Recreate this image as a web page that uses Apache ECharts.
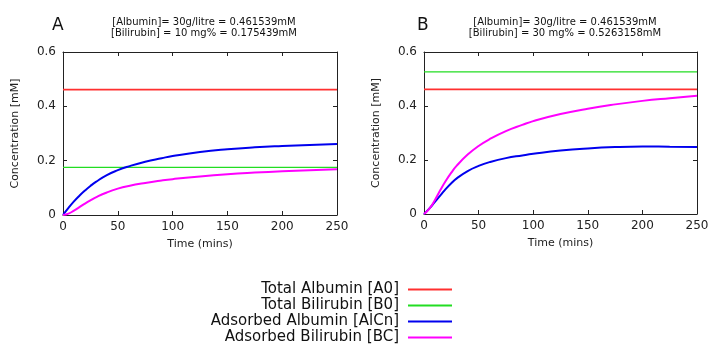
<!DOCTYPE html>
<html>
<head>
<meta charset="utf-8">
<script src="https://cdn.jsdelivr.net/npm/echarts@6/dist/echarts.min.js"></script>
<style>
  html, body { margin: 0; padding: 0; background: #fff; }
  #chart { width: 712px; height: 352px; }
</style>
</head>
<body>
<div id="chart"></div>
<script>
// time points (mins), shared by all curves
var times = [0, 5, 10, 15, 20, 25, 30, 40, 50, 60, 75, 90, 100, 125, 150, 175, 200, 225, 250];

// panel A: [Bilirubin] = 10 mg%
var totalAlbA = 0.461539;
var totalBilA = 0.175439;
var adsAlbA = [0, 0.026, 0.050, 0.071, 0.090, 0.107, 0.122, 0.147, 0.165, 0.179, 0.196, 0.209, 0.217, 0.232, 0.242, 0.249, 0.254, 0.258, 0.261];
var adsBilA = [0, 0.005, 0.016, 0.029, 0.042, 0.054, 0.065, 0.083, 0.097, 0.107, 0.118, 0.127, 0.132, 0.142, 0.150, 0.156, 0.161, 0.165, 0.168];

// panel B: [Bilirubin] = 30 mg%
var totalAlbB = 0.461539;
var totalBilB = 0.5263158;
var adsAlbB = [0, 0.021, 0.045, 0.069, 0.093, 0.114, 0.132, 0.159, 0.178, 0.192, 0.207, 0.217, 0.223, 0.235, 0.243, 0.248, 0.250, 0.249, 0.248];
var adsBilB = [0, 0.020, 0.052, 0.089, 0.123, 0.153, 0.179, 0.220, 0.252, 0.277, 0.307, 0.330, 0.344, 0.370, 0.390, 0.406, 0.419, 0.429, 0.438];

var seriesNames = ['Total Albumin [A0]', 'Total Bilirubin [B0]', 'Adsorbed Albumin [AlCn]', 'Adsorbed Bilirubin [BC]'];
var colors = ['#ff3030', '#22dd22', '#0000ee', '#ff00ff'];
var widths = [1.8, 1.2, 2, 2];

var xTicks = { min: 0, max: 250, interval: 50 };
var yTicks = { min: 0, max: 0.6, interval: 0.2 };

var font = 'DejaVu Sans';

function pairs(vals) {
  return times.map(function (t, i) { return [t, vals[i]]; });
}
function flat(v) {
  return [[xTicks.min, v], [xTicks.max, v]];
}

var chart = echarts.init(document.getElementById('chart'));

var grids = [
  { left: 63, top: 52, width: 274, height: 163 },
  { left: 424, top: 52, width: 273, height: 162 }
];

var xAxes = [], yAxes = [];
grids.forEach(function (g, gi) {
  xAxes.push({
    type: 'value', gridIndex: gi, min: xTicks.min, max: xTicks.max, interval: xTicks.interval,
    position: 'bottom',
    name: 'Time (mins)', nameLocation: 'middle', nameGap: 24,
    nameTextStyle: { fontFamily: font, fontSize: 11, color: '#222' },
    axisLine: { lineStyle: { color: '#222', width: 1 } },
    axisTick: { inside: true, length: 4, lineStyle: { color: '#222' } },
    axisLabel: { fontFamily: font, fontSize: 12, color: '#222', margin: 6 },
    splitLine: { show: false }
  });
  xAxes.push({
    type: 'value', gridIndex: gi, min: xTicks.min, max: xTicks.max, interval: xTicks.interval,
    position: 'top',
    axisLine: { onZero: false, lineStyle: { color: '#222', width: 1 } },
    axisTick: { inside: true, length: 4, lineStyle: { color: '#222' } },
    axisLabel: { show: false },
    splitLine: { show: false }
  });
  yAxes.push({
    type: 'value', gridIndex: gi, min: yTicks.min, max: yTicks.max, interval: yTicks.interval,
    position: 'left',
    name: 'Concentration [mM]', nameLocation: 'middle', nameGap: 42,
    nameTextStyle: { fontFamily: font, fontSize: 11, color: '#222' },
    axisLine: { show: true, lineStyle: { color: '#222', width: 1 } },
    axisTick: { show: true, inside: true, length: 4, lineStyle: { color: '#222' } },
    axisLabel: { fontFamily: font, fontSize: 12, color: '#222', margin: 7 },
    splitLine: { show: false }
  });
  yAxes.push({
    type: 'value', gridIndex: gi, min: yTicks.min, max: yTicks.max, interval: yTicks.interval,
    position: 'right',
    axisLine: { show: true, onZero: false, lineStyle: { color: '#222', width: 1 } },
    axisTick: { show: true, inside: true, length: 4, lineStyle: { color: '#222' } },
    axisLabel: { show: false },
    splitLine: { show: false }
  });
});

var panels = [
  [flat(totalAlbA), flat(totalBilA), pairs(adsAlbA), pairs(adsBilA)],
  [flat(totalAlbB), flat(totalBilB), pairs(adsAlbB), pairs(adsBilB)]
];

var series = [];
panels.forEach(function (p, gi) {
  p.forEach(function (d, si) {
    series.push({
      name: seriesNames[si],
      type: 'line',
      xAxisIndex: gi * 2,
      yAxisIndex: gi * 2,
      data: d,
      smooth: si >= 2 ? 0.5 : false,
      showSymbol: false,
      lineStyle: { color: colors[si], width: widths[si] },
      itemStyle: { color: colors[si] },
      z: si === 0 ? 3 : 2
    });
  });
});

chart.setOption({
  animation: false,
  title: [
    { text: 'A', left: 47, top: 12, textStyle: { fontFamily: font, fontSize: 17, fontWeight: 'normal', color: '#111' } },
    { text: '[Albumin]= 30g/litre = 0.461539mM\n[Bilirubin] = 10 mg% = 0.175439mM', left: 199, top: 12, textAlign: 'center',
      textStyle: { fontFamily: font, fontSize: 10, fontWeight: 'normal', color: '#111', lineHeight: 11 } },
    { text: 'B', left: 412, top: 12, textStyle: { fontFamily: font, fontSize: 17, fontWeight: 'normal', color: '#111' } },
    { text: '[Albumin]= 30g/litre = 0.461539mM\n[Bilirubin] = 30 mg% = 0.5263158mM', left: 560, top: 12, textAlign: 'center',
      textStyle: { fontFamily: font, fontSize: 10, fontWeight: 'normal', color: '#111', lineHeight: 11 } }
  ],
  legend: {
    data: seriesNames,
    orient: 'vertical',
    right: 255,
    top: 277,
    align: 'right',
    icon: 'rect',
    itemWidth: 44,
    itemHeight: 2,
    itemGap: 1,
    textStyle: { fontFamily: font, fontSize: 15, color: '#111', padding: [0, 4, 0, 0] }
  },
  grid: grids,
  xAxis: xAxes,
  yAxis: yAxes,
  series: series
});
</script>
</body>
</html>
